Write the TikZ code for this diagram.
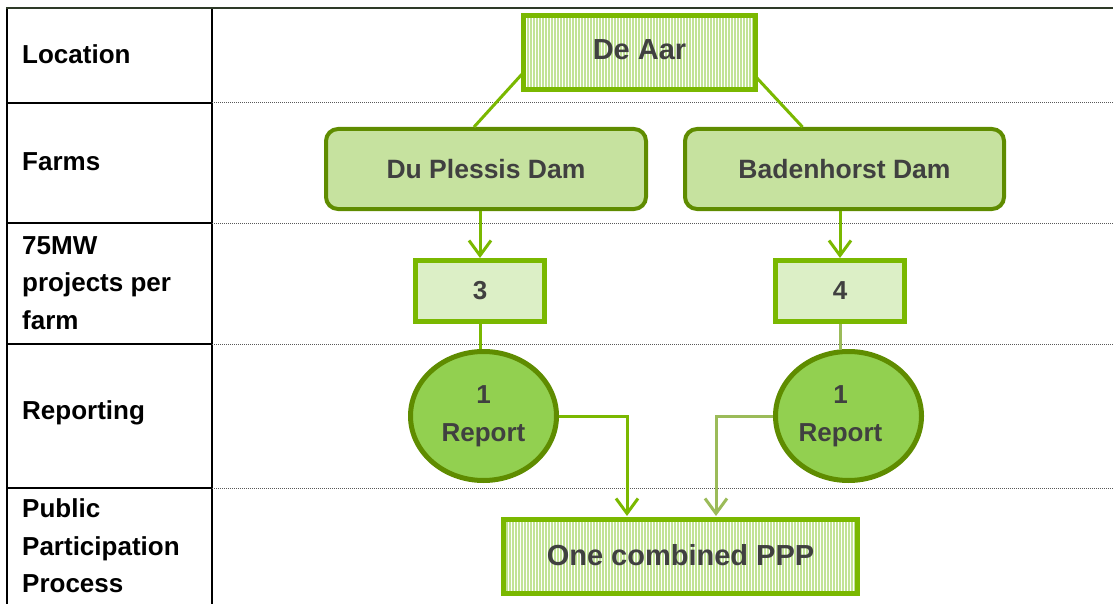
\documentclass[tikz,border=0pt]{standalone}
\usepackage{fontspec}
\setmainfont{Liberation Sans}
\usetikzlibrary{arrows.meta,shapes.geometric,patterns.meta,calc}
\definecolor{brgreen}{HTML}{7AB800}
\definecolor{dkgreen}{HTML}{5F8C00}
\definecolor{ellfill}{HTML}{92D050}
\definecolor{stripe}{HTML}{C2E396}
\definecolor{farmfill}{HTML}{C6E29F}
\definecolor{numfill}{HTML}{DCEFC6}
\definecolor{txt}{HTML}{404040}
\definecolor{paleline}{HTML}{9BBB59}
\definecolor{topline}{HTML}{2E3A28}
\begin{document}
\begin{tikzpicture}[x=1pt,y=-1pt,
  lbl/.style={anchor=west, inner sep=0pt, align=left, text=black,
    font=\bfseries\fontsize{26}{37.5}\selectfont},
  stripebox/.style={draw=brgreen, line width=5pt, inner sep=0pt, text=txt,
    preaction={pattern={Lines[angle=90,distance=3pt,line width=1.5pt]}, pattern color=stripe}},
  farmbox/.style={draw=dkgreen, line width=4pt, rounded corners=12pt, fill=farmfill,
    inner sep=0pt, minimum width=320pt, minimum height=80pt, text=txt,
    font=\bfseries\fontsize{26.5}{30}\selectfont},
  numbox/.style={draw=brgreen, line width=5pt, fill=numfill, inner sep=0pt,
    minimum width=129pt, minimum height=61pt, text=txt,
    font=\bfseries\fontsize{26}{30}\selectfont},
  repell/.style={ellipse, draw=dkgreen, line width=5pt, fill=ellfill, inner sep=0pt,
    minimum width=146pt, minimum height=129pt, text=txt, align=center,
    font=\bfseries\fontsize{26}{38}\selectfont},
  conn/.style={draw=brgreen, line width=3pt},
  barb/.style={-{Straight Barb[length=15pt,width=22pt]}},
  rowsolid/.style={draw=black, line width=1.5pt},
  rowdot/.style={draw=black!65, line width=1pt, dash pattern=on 1pt off 1pt}
]
\useasboundingbox (0,0) rectangle (1113,604);

% table frame
\draw[rowsolid] (7,8) -- (7,604);
\draw[rowsolid] (212,8) -- (212,604);
\foreach \yy in {103,223,344,488}{
  \draw[rowsolid] (7,\yy) -- (212,\yy);
  \draw[rowdot] (212,\yy) -- (1113,\yy);
}
\draw[draw=topline, line width=2.2pt] (6,8) -- (1113,8);

% row labels
\node[lbl] (lloc) at (22,54) {Location};
\node[lbl] (lfarm) at (22,162) {Farms};
\node[lbl] (lproj) at (22,283) {75MW\\projects per\\farm};
\node[lbl] (lrep) at (22,413) {Reporting};
\node[lbl] (lppp) at (22,546) {Public\\Participation\\Process};

% diagram nodes
\node[stripebox, minimum width=232pt, minimum height=74pt,
  font=\bfseries\fontsize{29}{32}\selectfont] (deaar) at (639.5,52.5) {\raisebox{5pt}{De Aar}};
\node[farmbox] (dup) at (486,169) {Du Plessis Dam};
\node[farmbox, minimum width=319pt] (bad) at (844.5,169) {Badenhorst Dam};
\node[numbox] (n3) at (480,291) {3};
\node[numbox] (n4) at (840,291) {4};
\node[repell] (e1) at (483.5,416) {\raisebox{-3pt}{1}\\\raisebox{-3pt}{Report}};
\node[repell] (e2) at (848.5,416) {\hspace*{-16pt}\raisebox{-3pt}{1}\\\hspace*{-16pt}\raisebox{-3pt}{Report}};
\node[stripebox, minimum width=354pt, minimum height=74pt,
  font=\bfseries\fontsize{29}{32}\selectfont] (ppp) at (680.5,556.5) {\raisebox{4pt}{One combined PPP}};

\coordinate (pl) at (627,516);
\coordinate (pr) at (716,516);

% connectors
\draw[conn] ($(deaar.south west)+(2,-19)$) -- ($(dup.north)+(-12,0)$);
\draw[conn] ($(deaar.south east)+(-2,-15)$) -- ($(bad.north)+(-42,0)$);
\draw[conn, barb] (n3.north |- dup.south) -- (n3.north);
\draw[conn, barb] (n4.north |- bad.south) -- (n4.north);
\draw[conn] (n3.south) -- (n3.south |- e1.north);
\draw[conn, draw=paleline] (n4.south) -- (n4.south |- e2.north);
\draw[conn, barb] (e1.east) -| (pl);
\draw[conn, barb, draw=paleline] (e2.west) -| (pr);
\end{tikzpicture}
\end{document}
